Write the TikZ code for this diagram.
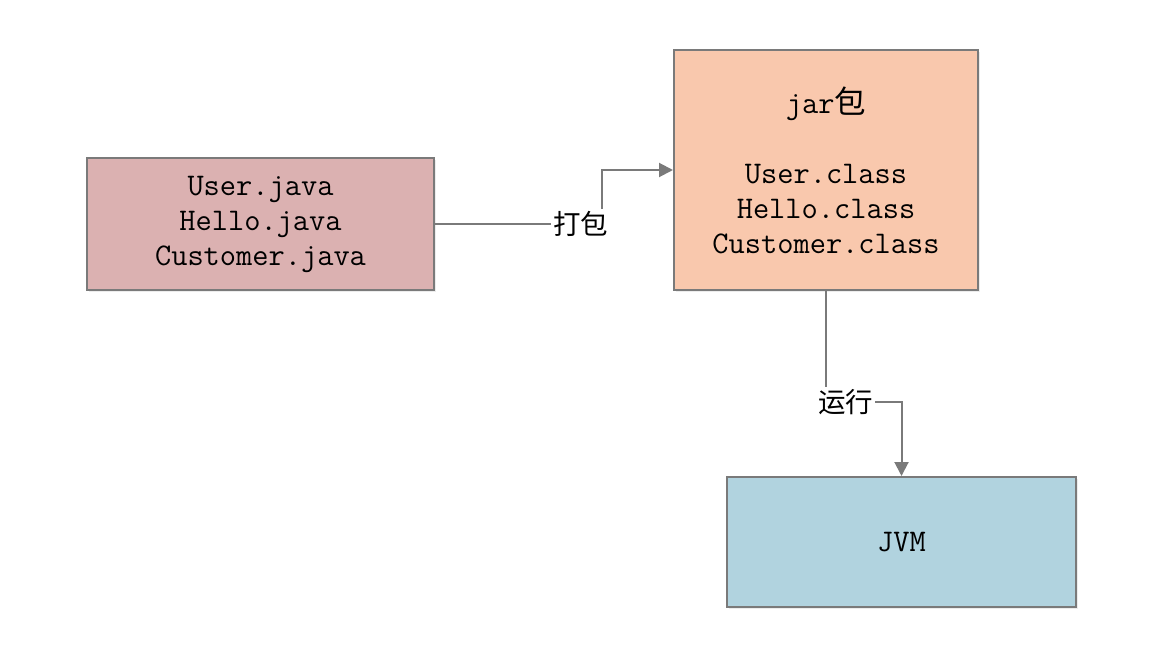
\documentclass[tikz,border=0pt]{standalone}
\usepackage{fontspec}
\newfontfamily\cjk{Noto Sans CJK SC}
\usetikzlibrary{arrows.meta,shadows}
\definecolor{srcfill}{HTML}{DBB1B1}
\definecolor{jarfill}{HTML}{F9C8AD}
\definecolor{jvmfill}{HTML}{B1D3DF}
\definecolor{edge}{HTML}{7A7A7A}
\begin{document}
\begin{tikzpicture}[x=1pt,y=-1pt,
  box/.style={draw=edge,line width=2pt,align=center,inner sep=0pt,
    font=\ttfamily\fontsize{31.5}{35}\selectfont,
    drop shadow={shadow xshift=2pt,shadow yshift=-2pt,opacity=0.15}},
  lbl/.style={inner sep=2pt,font=\cjk\fontsize{27.5}{30}\selectfont},
  wire/.style={draw=edge,line width=2pt},
  link/.style={wire,-{Triangle[length=14pt,width=14pt]}}]
  \useasboundingbox (0,0) rectangle (1162,660);

  \node[box,fill=srcfill,minimum width=347pt,minimum height=132pt] (src) at (260.5,224)
    {User.java\\Hello.java\\Customer.java};
  \node[box,fill=jarfill,minimum width=304pt,minimum height=240pt] (jar) at (826,170)
    {jar{\cjk 包}\\[35pt]User.class\\Hello.class\\Customer.class};
  \node[box,fill=jvmfill,minimum width=349pt,minimum height=130pt] (jvm) at (901.5,542) {JVM};

  \node[lbl] (pack) at (580.5,224) {打包};
  \node[lbl] (run) at (845.5,402) {运行};

  \draw[wire] (src.east) -- (pack.west);
  \draw[link] ([xshift=-8pt]pack.north east) |- (jar.west);
  \draw[wire] (jar.south) -- (jar.south |- run.north);
  \draw[link] (run.east) -| (jvm.north);
\end{tikzpicture}
\end{document}
